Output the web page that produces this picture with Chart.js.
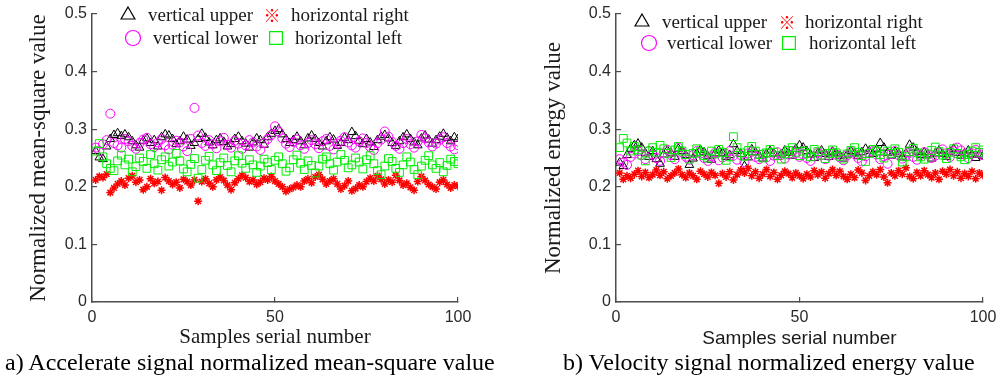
<!DOCTYPE html>
<html>
<head>
<meta charset="utf-8">
<script src="https://cdn.jsdelivr.net/npm/chart.js@4/dist/chart.umd.min.js"></script>
<style>
  body { margin: 0; background: #fff; }
  #wrap { position: relative; width: 1006px; height: 378px; overflow: hidden; }
  canvas { position: absolute; top: 0; }
  .cap { position: absolute; top: 350px; font: 24px/24px "Liberation Serif", "Times New Roman", serif; color: #000; white-space: nowrap; }
</style>
</head>
<body>
<div id="wrap">
  <canvas id="chartA" width="503" height="350" style="left:0"></canvas>
  <canvas id="chartB" width="503" height="350" style="left:503px"></canvas>
  <div class="cap" style="left:5px">a) Accelerate signal normalized mean-square value</div>
  <div class="cap" style="left:563px">b) Velocity signal normalized energy value</div>
</div>
<script>
// サンプル番号 1..100
const samples = Array.from({ length: 100 }, (_, i) => i + 1)

const seriesNames = ['vertical upper', 'horizontal right', 'vertical lower', 'horizontal left']
const xTicks = [0, 50, 100]
const yTicks = [0, 0.1, 0.2, 0.3, 0.4, 0.5]

// a) 加速度信号 正規化二乗平均値
const accVerticalUpper = [
  0.262,0.251,0.248,0.270,0.283,0.290,0.293,0.288,0.291,0.286,
  0.279,0.272,0.268,0.280,0.284,0.276,0.281,0.270,0.286,0.291,
  0.289,0.283,0.274,0.279,0.287,0.282,0.271,0.276,0.283,0.292,
  0.285,0.277,0.272,0.281,0.284,0.278,0.270,0.274,0.283,0.287,
  0.279,0.275,0.268,0.277,0.284,0.281,0.273,0.286,0.292,0.297,
  0.300,0.291,0.283,0.276,0.281,0.287,0.279,0.272,0.284,0.289,
  0.283,0.276,0.270,0.279,0.286,0.282,0.271,0.276,0.285,0.281,
  0.295,0.288,0.280,0.274,0.283,0.277,0.269,0.281,0.287,0.290,
  0.284,0.276,0.271,0.279,0.286,0.291,0.283,0.277,0.272,0.284,
  0.289,0.282,0.275,0.281,0.287,0.292,0.285,0.279,0.286,0.283
]
const accVerticalLower = [
  0.268,0.262,0.274,0.281,0.327,0.276,0.272,0.268,0.283,0.279,
  0.271,0.266,0.276,0.282,0.285,0.274,0.269,0.277,0.283,0.272,
  0.265,0.273,0.280,0.277,0.270,0.262,0.283,0.337,0.289,0.276,
  0.271,0.281,0.274,0.267,0.279,0.285,0.273,0.268,0.280,0.275,
  0.266,0.272,0.281,0.277,0.270,0.264,0.276,0.283,0.290,0.305,
  0.296,0.284,0.275,0.269,0.278,0.282,0.272,0.266,0.276,0.281,
  0.274,0.267,0.279,0.283,0.271,0.265,0.275,0.280,0.286,0.277,
  0.272,0.268,0.279,0.284,0.276,0.269,0.264,0.276,0.282,0.296,
  0.287,0.278,0.271,0.266,0.276,0.283,0.274,0.268,0.279,0.290,
  0.284,0.277,0.270,0.275,0.282,0.286,0.276,0.270,0.265,0.272
]
const accHorizontalLeft = [
  0.262,0.275,0.252,0.240,0.232,0.228,0.245,0.255,0.238,0.248,
  0.226,0.235,0.250,0.244,0.232,0.256,0.240,0.229,0.247,0.252,
  0.236,0.243,0.258,0.245,0.231,0.226,0.239,0.249,0.215,0.230,
  0.246,0.253,0.238,0.228,0.242,0.250,0.237,0.226,0.245,0.254,
  0.241,0.232,0.247,0.238,0.225,0.236,0.248,0.242,0.230,0.246,
  0.252,0.240,0.227,0.233,0.247,0.255,0.241,0.230,0.245,0.237,
  0.224,0.236,0.248,0.252,0.240,0.229,0.243,0.256,0.246,0.233,
  0.238,0.250,0.243,0.231,0.247,0.254,0.240,0.228,0.221,0.236,
  0.249,0.244,0.232,0.225,0.238,0.252,0.243,0.230,0.221,0.236,
  0.246,0.254,0.238,0.232,0.242,0.226,0.237,0.248,0.244,0.240
]
const accHorizontalRight = [
  0.212,0.218,0.216,0.222,0.190,0.198,0.205,0.210,0.203,0.215,
  0.219,0.208,0.212,0.195,0.200,0.214,0.206,0.209,0.194,0.216,
  0.210,0.204,0.208,0.198,0.213,0.209,0.203,0.212,0.175,0.209,
  0.214,0.206,0.200,0.212,0.217,0.211,0.203,0.195,0.207,0.214,
  0.220,0.216,0.209,0.212,0.204,0.208,0.215,0.212,0.218,0.210,
  0.205,0.200,0.192,0.196,0.199,0.203,0.200,0.210,0.214,0.207,
  0.217,0.221,0.213,0.205,0.210,0.214,0.205,0.196,0.202,0.210,
  0.193,0.197,0.203,0.200,0.209,0.215,0.210,0.219,0.213,0.205,
  0.212,0.208,0.220,0.211,0.203,0.206,0.199,0.194,0.209,0.218,
  0.211,0.204,0.200,0.196,0.208,0.212,0.204,0.198,0.203,0.201
]

// b) 速度信号 正規化エネルギー値
const velVerticalUpper = [
  0.242,0.236,0.255,0.266,0.272,0.275,0.268,0.258,0.252,0.262,
  0.248,0.240,0.256,0.263,0.258,0.252,0.266,0.262,0.255,0.238,
  0.249,0.258,0.264,0.260,0.253,0.247,0.258,0.263,0.259,0.252,
  0.255,0.274,0.262,0.257,0.236,0.251,0.265,0.260,0.254,0.249,
  0.257,0.262,0.258,0.252,0.256,0.263,0.259,0.254,0.266,0.272,
  0.268,0.262,0.256,0.250,0.258,0.263,0.257,0.252,0.261,0.258,
  0.254,0.249,0.256,0.262,0.258,0.253,0.260,0.266,0.262,0.257,
  0.265,0.276,0.268,0.259,0.254,0.261,0.257,0.251,0.258,0.273,
  0.268,0.261,0.255,0.260,0.256,0.249,0.258,0.263,0.257,0.252,
  0.261,0.266,0.259,0.254,0.258,0.263,0.256,0.250,0.256,0.253
]
const velVerticalLower = [
  0.248,0.242,0.238,0.252,0.258,0.262,0.255,0.248,0.262,0.256,
  0.250,0.245,0.258,0.264,0.255,0.248,0.268,0.260,0.252,0.247,
  0.255,0.262,0.258,0.250,0.245,0.253,0.259,0.246,0.251,0.257,
  0.262,0.254,0.247,0.255,0.243,0.258,0.261,0.252,0.248,0.256,
  0.251,0.245,0.254,0.260,0.255,0.249,0.256,0.262,0.258,0.252,
  0.256,0.250,0.245,0.253,0.259,0.255,0.248,0.254,0.260,0.256,
  0.251,0.246,0.255,0.261,0.257,0.250,0.244,0.253,0.259,0.262,
  0.256,0.248,0.253,0.240,0.257,0.262,0.255,0.249,0.254,0.259,
  0.252,0.247,0.255,0.260,0.256,0.250,0.254,0.260,0.265,0.258,
  0.252,0.262,0.268,0.263,0.256,0.250,0.258,0.264,0.259,0.255
]
const velHorizontalLeft = [
  0.268,0.284,0.276,0.262,0.270,0.264,0.255,0.245,0.262,0.268,
  0.260,0.272,0.266,0.258,0.251,0.264,0.270,0.262,0.256,0.248,
  0.258,0.266,0.261,0.254,0.250,0.262,0.257,0.265,0.260,0.246,
  0.252,0.287,0.268,0.259,0.253,0.263,0.270,0.262,0.256,0.250,
  0.259,0.265,0.260,0.254,0.248,0.257,0.263,0.268,0.260,0.254,
  0.262,0.258,0.252,0.265,0.261,0.255,0.249,0.258,0.264,0.259,
  0.253,0.248,0.257,0.263,0.268,0.260,0.254,0.244,0.258,0.265,
  0.262,0.256,0.250,0.262,0.258,0.266,0.260,0.243,0.252,0.261,
  0.267,0.259,0.252,0.248,0.257,0.263,0.269,0.261,0.255,0.249,
  0.260,0.266,0.258,0.252,0.247,0.256,0.262,0.268,0.260,0.264
]
const velHorizontalRight = [
  0.224,0.213,0.219,0.215,0.222,0.228,0.218,0.225,0.216,0.221,
  0.229,0.220,0.226,0.214,0.219,0.224,0.231,0.221,0.216,0.224,
  0.219,0.213,0.227,0.222,0.217,0.225,0.220,0.206,0.223,0.217,
  0.226,0.212,0.221,0.229,0.224,0.232,0.219,0.226,0.215,0.222,
  0.230,0.218,0.225,0.213,0.220,0.227,0.223,0.216,0.224,0.219,
  0.214,0.222,0.217,0.228,0.221,0.226,0.215,0.223,0.230,0.220,
  0.227,0.218,0.213,0.222,0.216,0.229,0.224,0.211,0.219,0.226,
  0.221,0.230,0.217,0.207,0.224,0.219,0.228,0.222,0.233,0.218,
  0.214,0.225,0.219,0.228,0.221,0.216,0.224,0.213,0.227,0.222,
  0.230,0.219,0.226,0.215,0.223,0.218,0.227,0.214,0.224,0.220
]

const SERIF = '"Liberation Serif", "Times New Roman", serif'
const SANS = '"Liberation Sans", Arial, sans-serif'

// マーカースタイル（系列名ごと）
const markerStyle = {
  'vertical upper':   { pointStyle: 'triangle', color: '#000000', radius: 5,   width: 1,   order: 3 },
  'vertical lower':   { pointStyle: 'circle',   color: '#ff00ff', radius: 4.5, width: 1,   order: 2 },
  'horizontal right': { pointStyle: 'star',     color: '#ff0000', radius: 4,   width: 1.5, order: 1 },
  'horizontal left':  { pointStyle: 'rect',     color: '#00ee00', radius: 5.5, width: 1,   order: 0 }
}

function makeDataset(name, values) {
  const s = markerStyle[name]
  return {
    label: name,
    data: values.map((v, i) => ({ x: samples[i], y: v })),
    pointStyle: s.pointStyle,
    pointRadius: s.radius,
    pointBorderColor: s.color,
    pointBackgroundColor: 'rgba(0,0,0,0)',
    pointBorderWidth: s.width,
    showLine: false,
    order: s.order
  }
}

// 図中の凡例（2行2列）
const cornerLegend = {
  id: 'cornerLegend',
  afterDatasetsDraw(chart, args, opts) {
    const ctx = chart.ctx
    const area = chart.chartArea
    ctx.save()
    opts.items.forEach(it => {
      const s = markerStyle[it.name]
      const x = area.left + it.dx
      const y = area.top + it.dy
      if (it.name === 'horizontal right') {
        ctx.fillStyle = s.color
        ctx.font = '17px "Noto Sans CJK SC"'
        ctx.textAlign = 'center'
        ctx.textBaseline = 'middle'
        ctx.fillText('※', x, y + 1)
      } else {
        ctx.strokeStyle = s.color
        ctx.fillStyle = 'rgba(0,0,0,0)'
        ctx.lineWidth = 1.2
        Chart.helpers.drawPoint(ctx, {
          pointStyle: s.pointStyle, radius: it.r, rotation: 0, borderWidth: 1.2
        }, x, y)
      }
      ctx.fillStyle = '#1a1a1a'
      ctx.font = '19px ' + SERIF
      ctx.textAlign = 'left'
      ctx.textBaseline = 'middle'
      ctx.fillText(it.name, x + it.tx, y + 1)
    })
    ctx.restore()
  }
}

function buildChart(id, cfg) {
  return new Chart(document.getElementById(id), {
    type: 'scatter',
    data: {
      datasets: [
        makeDataset('vertical upper', cfg.upper),
        makeDataset('vertical lower', cfg.lower),
        makeDataset('horizontal right', cfg.right),
        makeDataset('horizontal left', cfg.left)
      ]
    },
    options: {
      responsive: false,
      animation: false,
      devicePixelRatio: 1,
      layout: { padding: { top: 14, right: cfg.padRight, left: 0, bottom: 0 } },
      plugins: {
        legend: { display: false },
        tooltip: { enabled: false },
        cornerLegend: { items: cfg.legend }
      },
      scales: {
        x: {
          type: 'linear',
          min: 0,
          max: 100,
          afterFit: s => { s.height = 48; s.paddingLeft = 0; s.paddingRight = 0 },
          afterBuildTicks: s => { s.ticks = xTicks.map(v => ({ value: v })) },
          grid: { drawOnChartArea: false, tickLength: -5, color: '#4d4d4d', lineWidth: 1.2 },
          border: { color: '#4d4d4d', width: 1.5 },
          ticks: { padding: 11, color: '#2a2a2a', font: { family: SANS, size: 16 }, maxRotation: 0 },
          title: {
            display: true,
            text: 'Samples serial number',
            color: '#1a1a1a',
            font: { family: cfg.xTitleFont, size: cfg.xTitleSize },
            padding: { top: 0, bottom: 0 }
          }
        },
        y: {
          min: 0,
          max: 0.5,
          afterFit: s => { s.width = cfg.yWidth; s.paddingTop = 0; s.paddingBottom = 0 },
          afterBuildTicks: s => { s.ticks = yTicks.map(v => ({ value: v })) },
          grid: { drawOnChartArea: false, tickLength: -5, color: '#4d4d4d', lineWidth: 1.2 },
          border: { color: '#4d4d4d', width: 1.5 },
          ticks: { padding: 10, color: '#2a2a2a', font: { family: SANS, size: 16 } },
          title: {
            display: true,
            text: cfg.yTitle,
            color: '#1a1a1a',
            font: { family: SERIF, size: 23 },
            padding: { top: cfg.yTitlePad, bottom: 0 }
          }
        }
      }
    },
    plugins: [cornerLegend]
  })
}

buildChart('chartA', {
  upper: accVerticalUpper, lower: accVerticalLower, right: accHorizontalRight, left: accHorizontalLeft,
  yTitle: 'Normalized mean-square value',
  yWidth: 92, padRight: 45, yTitlePad: 25,
  xTitleFont: SERIF, xTitleSize: 21,
  legend: [
    { name: seriesNames[0], dx: 36, dy: 1, r: 8, tx: 20 },
    { name: seriesNames[1], dx: 180, dy: 1, r: 7, tx: 19 },
    { name: seriesNames[2], dx: 41, dy: 24, r: 7.5, tx: 20 },
    { name: seriesNames[3], dx: 184, dy: 24, r: 9, tx: 19 }
  ]
})

buildChart('chartB', {
  upper: velVerticalUpper, lower: velVerticalLower, right: velHorizontalRight, left: velHorizontalLeft,
  yTitle: 'Normalized energy value',
  yWidth: 113, padRight: 23, yTitlePad: 37,
  xTitleFont: SANS, xTitleSize: 19,
  legend: [
    { name: seriesNames[0], dx: 26, dy: 8, r: 8, tx: 20 },
    { name: seriesNames[1], dx: 171, dy: 8, r: 7, tx: 18 },
    { name: seriesNames[2], dx: 33, dy: 29, r: 7.5, tx: 18 },
    { name: seriesNames[3], dx: 173, dy: 29, r: 9, tx: 20 }
  ]
})
</script>
</body>
</html>
